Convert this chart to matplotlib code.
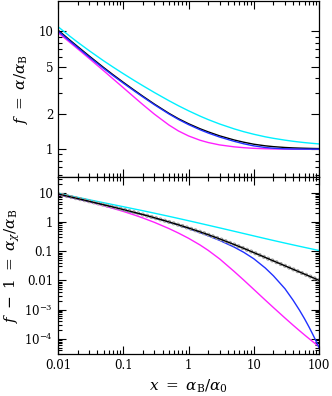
import matplotlib
matplotlib.use('Agg')
import matplotlib.pyplot as plt
import matplotlib.ticker as mticker
import numpy as np

# ---- data ----
x = [0.01, 0.015, 0.02, 0.03, 0.05, 0.07, 0.1, 0.15, 0.2, 0.3, 0.5, 0.7, 1, 1.5, 2, 3, 5, 7,
     10, 15, 20, 30, 40, 50, 60, 70, 80, 90, 100]

# top panel: f = alpha/alpha_B
cyan_f = [10.9, 9.1, 8.05, 6.83, 5.60, 4.95, 4.36, 3.79, 3.443, 3.017, 2.573, 2.331, 2.112, 1.904,
          1.779, 1.632, 1.484, 1.405, 1.336, 1.271, 1.234, 1.191, 1.165, 1.148, 1.135, 1.126,
          1.118, 1.112, 1.106]
blue_f = [10.0, 8.28, 7.26, 6.04, 4.83, 4.19, 3.625, 3.088, 2.764, 2.376, 1.986, 1.784, 1.613,
          1.459, 1.369, 1.265, 1.164, 1.110, 1.065, 1.032, 1.017, 1.006, 1.002, 1.001, 1.0, 1.0,
          1.0, 1.0, 1.0]
black_f = [10.2, 8.44, 7.40, 6.157, 4.918, 4.264, 3.685, 3.136, 2.804, 2.407, 2.012, 1.81, 1.641,
           1.488, 1.40, 1.295, 1.195, 1.144, 1.1, 1.066, 1.049, 1.032, 1.024, 1.0195, 1.0164,
           1.0142, 1.0125, 1.0112, 1.0101]
magenta_f = [9.7, 8.07, 7.077, 5.867, 4.617, 3.931, 3.315, 2.729, 2.38, 1.977, 1.601, 1.425,
             1.293, 1.189, 1.137, 1.085, 1.045, 1.028, 1.015, 1.007, 1.003, 1.0005, 1.0, 1.0,
             1.0, 1.0, 1.0, 1.0, 1.0]

# bottom panel: f - 1 = alpha_X/alpha_B
cyan_g = [9.8, 8.07, 7.05, 5.83, 4.60, 3.95, 3.36, 2.79, 2.443, 2.017, 1.573, 1.331, 1.112,
          0.9037, 0.7792, 0.6318, 0.4839, 0.4054, 0.3357, 0.2714, 0.2339, 0.1905, 0.1651,
          0.148, 0.1354, 0.1258, 0.118, 0.1116, 0.1062]
black_g = [9.2, 7.44, 6.40, 5.157, 3.918, 3.264, 2.685, 2.136, 1.804, 1.407, 1.012, 0.805,
           0.626, 0.463, 0.3698, 0.2651, 0.1702, 0.1256, 0.0899, 0.0612, 0.0466, 0.0317,
           0.0241, 0.0195, 0.0164, 0.01416, 0.01247, 0.01115, 0.01009]
blue_g = [9.0, 7.28, 6.26, 5.04, 3.83, 3.19, 2.625, 2.088, 1.764, 1.376, 0.986, 0.779, 0.598,
          0.4335, 0.3394, 0.2349, 0.1387, 0.0922, 0.0553, 0.02664, 0.01436, 0.00521, 0.0021,
          0.000964, 0.000482, 0.000256, 0.0001426, 0.000083, 0.0000497]
magenta_g = [8.7, 7.07, 6.077, 4.867, 3.617, 2.931, 2.315, 1.729, 1.380, 0.977, 0.6006, 0.4201,
             0.2783, 0.1641, 0.1073, 0.05452, 0.0203, 0.01031, 0.004924, 0.002117, 0.001173,
             0.0005167, 0.0002922, 0.0001902, 0.000135, 0.0001016, 0.0000797, 0.0000646,
             0.0000537]

x_ticks = [0.01, 0.1, 1, 10, 100]
x_ticklabels = ['0.01', '0.1', '1', '10', '100']
top_ticks = [1, 2, 5, 10]
top_ticklabels = ['1', '2', '5', '10']
bot_ticks = [1e-4, 1e-3, 1e-2, 0.1, 1, 10]
bot_ticklabels = [r'$10^{-4}$', r'$10^{-3}$', '0.01', '0.1', '1', '10']

CYAN = '#00f0ff'
BLUE = '#2030ff'
MAG = '#ff20ff'

plt.rcParams['font.family'] = ['DejaVu Serif']
plt.rcParams['mathtext.fontset'] = 'dejavuserif'

fig = plt.figure(figsize=(3.32, 3.96), dpi=100)
ax1 = fig.add_axes([0.1747, 0.553, 0.7863, 0.4445])
ax2 = fig.add_axes([0.1747, 0.106, 0.7863, 0.447])


def style(ax):
    ax.set_xscale('log')
    ax.set_yscale('log')
    ax.set_xlim(0.01, 100)
    ax.xaxis.set_major_locator(mticker.FixedLocator(x_ticks))
    ax.xaxis.set_minor_locator(mticker.LogLocator(base=10, subs=np.arange(2, 10), numticks=20))
    ax.tick_params(which='both', direction='in', top=True, right=True, width=0.8, labelsize=8.5)
    ax.tick_params(which='major', length=6)
    ax.tick_params(which='minor', length=3)
    for s in ax.spines.values():
        s.set_linewidth(0.9)


# top panel
style(ax1)
ax1.plot(x, cyan_f, color=CYAN, lw=1.0)
ax1.plot(x, magenta_f, color=MAG, lw=1.0)
ax1.plot(x, black_f, color='black', lw=1.0)
ax1.plot(x, blue_f, color=BLUE, lw=1.0)
ax1.set_ylim(0.58, 18)
ax1.yaxis.set_major_locator(mticker.FixedLocator([1, 10]))
ax1.yaxis.set_minor_locator(mticker.FixedLocator([0.6, 0.7, 0.8, 0.9, 2, 3, 4, 5, 6, 7, 8, 9]))
ax1.set_yticks(top_ticks)
ax1.set_yticklabels(top_ticklabels)
ax1.set_xticklabels([])
ax1.set_ylabel(r'$f\ =\ \alpha/\alpha_{\rm B}$', fontsize=11, labelpad=6)

# bottom panel
style(ax2)
ax2.plot(x, cyan_g, color=CYAN, lw=1.0)
ax2.plot(x, magenta_g, color=MAG, lw=1.0)
ax2.plot(x, blue_g, color=BLUE, lw=1.0)
# grey open circles hugging the black curve
ax2.plot(x, black_g, color='0.6', lw=3.0, ls=(0, (0.001, 1.1)), dash_capstyle='round')
ax2.plot(x, black_g, color='white', lw=1.6, ls=(0, (0.001, 2.06)), dash_capstyle='round')
ax2.plot(x, black_g, color='black', lw=1.0)
ax2.set_ylim(3e-5, 35)
ax2.yaxis.set_major_locator(mticker.FixedLocator(bot_ticks))
ax2.yaxis.set_minor_locator(mticker.LogLocator(base=10, subs=np.arange(2, 10), numticks=20))
ax2.set_yticklabels(bot_ticklabels)
ax2.set_xticklabels(x_ticklabels)
ax2.set_ylabel(r'$f\ -\ 1\ =\ \alpha_{\chi}/\alpha_{\rm B}$', fontsize=11, labelpad=2)
ax2.set_xlabel(r'$x\ =\ \alpha_{\rm B}/\alpha_0$', fontsize=11, labelpad=4)

fig.align_ylabels([ax1, ax2])
plt.savefig('out.png', dpi=100)
